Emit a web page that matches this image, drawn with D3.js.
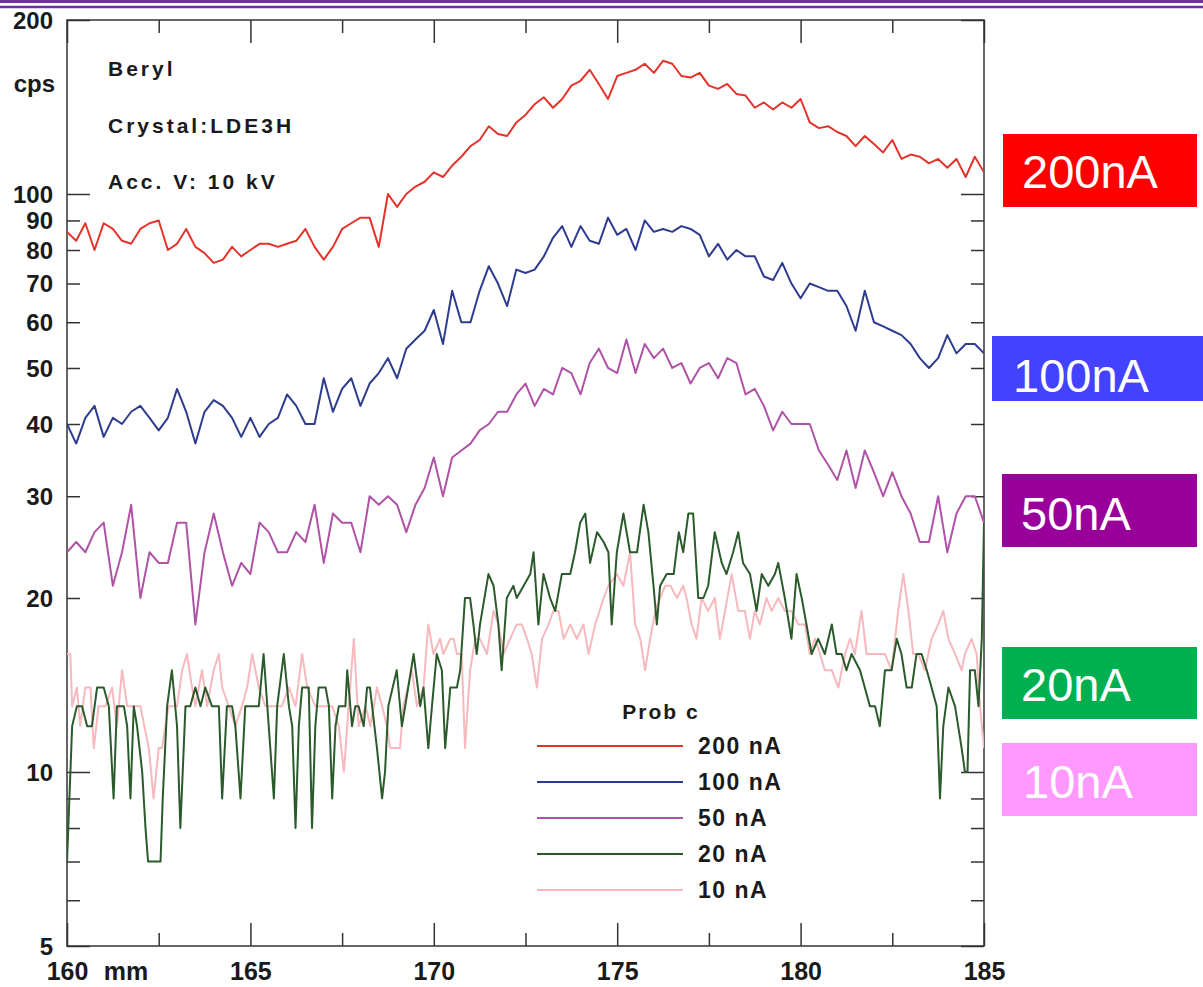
<!DOCTYPE html>
<html>
<head>
<meta charset="utf-8">
<script src="https://cdn.jsdelivr.net/npm/d3@7"></script>
<style>
  html, body { margin: 0; padding: 0; background: #fff; }
  svg { display: block; }
  .tick line { stroke: #333; stroke-width: 1.5; }
  .tick text { font-family: "Liberation Sans", Arial, sans-serif; font-weight: bold; fill: #1a1a1a; }
</style>
</head>
<body>
<svg id="chart" width="1203" height="987"></svg>
<script>
// ---- data ----
// upper three traces: read every 0.25 mm from 160 to 185
const mmStart = 160;
const mmStep = 0.25;

const series200 = [86, 83, 89, 80, 89, 87, 83, 82, 87, 89, 90, 80, 82, 87, 81, 79, 76, 77, 81, 78,
  80, 82, 82, 81, 82, 83, 87, 81, 77, 81, 87, 89, 91, 91, 81, 100, 95, 100, 103, 105,
  109, 107, 112, 116, 121, 124, 131, 127, 126, 133, 137, 143, 147, 141, 146, 154, 157, 164, 155, 146,
  160, 162, 164, 168, 162, 170, 168, 160, 159, 162, 154, 152, 155, 149, 148, 141, 144, 140, 144, 141,
  146, 133, 130, 131, 128, 126, 121, 126, 122, 118, 124, 115, 117, 116, 113, 115, 111, 115, 107, 116, 109];

const series100 = [40, 37, 41, 43, 38, 41, 40, 42, 43, 41, 39, 41, 46, 42, 37, 42, 44, 43, 41, 38,
  41, 38, 40, 41, 45, 43, 40, 40, 48, 42, 46, 48, 43, 47, 49, 52, 48, 54, 56, 58,
  63, 55, 68, 60, 60, 68, 75, 70, 64, 74, 73, 74, 78, 84, 88, 81, 88, 83, 82, 91,
  85, 87, 80, 90, 86, 87, 86, 88, 87, 85, 78, 82, 77, 80, 78, 78, 72, 71, 76, 70,
  66, 70, 69, 68, 68, 64, 58, 68, 60, 59, 58, 57, 55, 52, 50, 52, 57, 53, 55, 55, 53];

const series50 = [24, 25, 24, 26, 27, 21, 24, 29, 20, 24, 23, 23, 27, 27, 18, 24, 28, 24, 21, 23,
  22, 27, 26, 24, 24, 26, 25, 29, 23, 28, 27, 27, 24, 30, 29, 30, 29, 26, 29, 31,
  35, 30, 35, 36, 37, 39, 40, 42, 42, 45, 47, 43, 46, 45, 50, 49, 45, 51, 54, 50,
  49, 56, 49, 55, 52, 54, 50, 51, 47, 50, 51, 48, 52, 51, 45, 46, 43, 39, 42, 40,
  40, 40, 36, 34, 32, 36, 31, 36, 33, 30, 33, 30, 28, 25, 25, 30, 24, 28, 30, 30, 27];

// lower two traces: read at every visible turn of the trace
const mm20 = [160.0, 160.14, 160.27, 160.41, 160.55, 160.68, 160.82, 161.0, 161.14, 161.27,
  161.36, 161.55, 161.64, 161.73, 161.82, 161.91, 162.05, 162.14, 162.21, 162.41,
  162.55, 162.61, 162.73, 162.86, 163.0, 163.09, 163.23, 163.36, 163.5, 163.64,
  163.77, 163.95, 164.14, 164.23, 164.36, 164.5, 164.59, 164.73, 164.86, 165.05,
  165.23, 165.36, 165.5, 165.64, 165.73, 165.91, 166.05, 166.14, 166.23, 166.32,
  166.41, 166.59, 166.68, 166.77, 166.86, 167.05, 167.14, 167.23, 167.32, 167.41,
  167.59, 167.64, 167.77, 167.86, 167.95, 168.09, 168.18,
  168.26, 168.45, 168.59, 168.67, 168.76, 168.99, 169.13, 169.22, 169.45, 169.63,
  169.72, 169.85, 169.95, 170.08, 170.22, 170.31, 170.45, 170.63, 170.72, 170.85,
  170.99, 171.08, 171.17, 171.26, 171.49, 171.63, 171.76, 171.85, 171.99, 172.17,
  172.26, 172.45, 172.63, 172.72, 172.85, 172.99, 173.17, 173.31, 173.49, 173.72,
  173.85, 173.99, 174.13, 174.26, 174.45, 174.63, 174.76, 174.85, 174.99, 175.17,
  175.35, 175.54, 175.72, 175.85, 175.99, 176.08, 176.17, 176.35, 176.54, 176.68,
  176.80, 176.94, 177.07, 177.21, 177.35, 177.48, 177.66, 177.85, 177.98, 178.16,
  178.30, 178.43, 178.62, 178.80, 178.94, 179.12, 179.30, 179.39, 179.57, 179.75,
  179.89, 180.03, 180.16, 180.30, 180.48, 180.66, 180.85, 180.98, 181.12, 181.25,
  181.39, 181.62, 181.75, 181.89, 182.03, 182.16, 182.30, 182.48, 182.62, 182.75,
  182.89, 183.03, 183.16, 183.30, 183.44, 183.57, 183.71, 183.80, 183.89, 184.03,
  184.21, 184.39, 184.48, 184.55, 184.62, 184.75, 184.85, 184.94, 185.0];
const series20 = [7, 12, 13, 13, 12, 12, 14, 14, 13, 9,
  13, 13, 12, 9, 13, 12, 10, 8, 7, 7,
  7, 9, 13, 15, 12, 8, 13, 13, 14, 13,
  14, 13, 13, 9, 13, 13, 12, 9, 13, 13,
  13, 16, 12, 9, 13, 16, 13, 12, 8, 12,
  14, 14, 8, 12, 14, 14, 13, 9, 12, 13,
  13, 15, 12, 13, 13, 12, 14,
  14, 11, 9, 10, 13, 15, 12, 13, 16, 13,
  14, 11, 13, 16, 15, 11, 14, 14, 15, 20,
  20, 18, 16, 18, 22, 21, 18, 15, 20, 21,
  20, 21, 22, 24, 18, 22, 20, 19, 22, 22,
  24, 27, 28, 23, 26, 25, 24, 18, 24, 28,
  24, 24, 29, 26, 21, 18, 21, 22, 22, 26,
  24, 28, 28, 20, 20, 21, 26, 23, 22, 24,
  26, 23, 22, 19, 22, 21, 22, 23, 20, 17,
  22, 20, 18, 16, 17, 16, 18, 16, 16, 15,
  16, 15, 14, 13, 13, 12, 15, 15, 17, 16,
  14, 14, 16, 16, 15, 14, 13, 9, 12, 14,
  13, 11, 10, 10, 15, 15, 13, 17, 27];

const mm10 = [160.0, 160.09, 160.14, 160.27, 160.36, 160.5, 160.64, 160.73, 160.86, 161.05,
  161.23, 161.36, 161.5, 161.64, 161.82, 162.0, 162.23, 162.36, 162.5, 162.59,
  162.77, 163.0, 163.14, 163.27, 163.41, 163.5, 163.68, 163.82, 164.0, 164.14,
  164.23, 164.41, 164.59, 164.77, 164.91, 165.05, 165.23, 165.41, 165.55, 165.68,
  165.86, 166.05, 166.23, 166.41, 166.55, 166.77, 166.91, 167.05, 167.23, 167.41,
  167.55, 167.68, 167.82, 167.95, 168.14, 168.27,
  168.45, 168.59, 168.72, 168.81, 169.08, 169.17, 169.4, 169.54, 169.72, 169.85,
  169.99, 170.17, 170.26, 170.45, 170.54, 170.63, 170.76, 170.85, 170.99, 171.13,
  171.26, 171.45, 171.63, 171.76, 171.9, 172.08, 172.26, 172.4, 172.54, 172.67,
  172.81, 172.95, 173.13, 173.26, 173.4, 173.54, 173.72, 173.9, 174.08, 174.22,
  174.4, 174.63, 174.76, 174.99, 175.17, 175.35, 175.49, 175.63, 175.76, 175.9,
  176.04, 176.17, 176.31, 176.45, 176.63,
  176.80, 176.89, 177.03, 177.16, 177.3, 177.48, 177.66, 177.8, 177.94, 178.12,
  178.3, 178.48, 178.62, 178.75, 178.89, 179.07, 179.21, 179.39, 179.57, 179.75,
  179.94, 180.12, 180.25, 180.39, 180.53, 180.66, 180.85, 181.03, 181.21, 181.35,
  181.48, 181.66, 181.8, 181.94, 182.12, 182.3, 182.48, 182.66, 182.8, 182.94,
  183.07, 183.21, 183.39, 183.57, 183.75, 183.89, 184.03, 184.21, 184.39, 184.48,
  184.66, 184.8, 184.89, 185.0];
const series10 = [16, 16, 13, 14, 12, 14, 14, 11, 13, 13,
  14, 12, 15, 13, 13, 13, 11, 9, 11, 11,
  13, 13, 15, 16, 14, 13, 15, 13, 15, 16,
  14, 13, 12, 13, 14, 16, 14, 13, 13, 13,
  13, 14, 13, 16, 14, 13, 13, 13, 13, 12,
  10, 13, 17, 12, 13, 12,
  14, 13, 12, 11, 11, 13, 15, 13, 14, 18,
  16, 17, 16, 17, 17, 16, 16, 11, 15, 17,
  17, 16, 19, 18, 16, 17, 18, 18, 17, 16,
  14, 17, 18, 19, 19, 17, 18, 17, 18, 16,
  18, 20, 21, 22, 21, 24, 18, 17, 15, 17,
  19, 20, 21, 21, 20,
  21, 20, 18, 17, 20, 19, 20, 17, 19, 22,
  19, 19, 17, 19, 18, 20, 19, 20, 19, 19,
  18, 18, 16, 17, 16, 15, 15, 14, 16, 17,
  16, 19, 16, 16, 16, 16, 15, 19, 22, 19,
  16, 16, 15, 17, 18, 19, 17, 16, 15, 16,
  17, 16, 13, 11];

const seriesNames = ["200 nA", "100 nA", "50 nA", "20 nA", "10 nA"];
const seriesColors = ["#e3342c", "#2e3c8f", "#b053a6", "#2b5a2b", "#f7b9bd"];
const boxLabels = ["200nA", "100nA", "50nA", "20nA", "10nA"];
const boxColors = ["#ff0000", "#4343ff", "#990099", "#00b050", "#ff99ff"];

const xMajorTicks = [160, 165, 170, 175, 180, 185];
const xMinorTicks = [162.5, 167.5, 172.5, 177.5, 182.5];
const yMajorTicks = [5, 10, 100, 200];
const yMinorTicks = [6, 7, 8, 9, 20, 30, 40, 50, 60, 70, 80, 90];
const yLabelled = [5, 10, 20, 30, 40, 50, 60, 70, 80, 90, 100, 200];
const infoLines = ["Beryl", "Crystal:LDE3H", "Acc. V: 10 kV"];

document.addEventListener('DOMContentLoaded', function () {

    // ====================================================================
    // 1. CONFIGURATION
    // ====================================================================
    const CONFIG = {
        plot: { left: 67, right: 984, top: 20, bottom: 946 },
        majorTick: 23,
        minorTick: 13,
        font: '"Liberation Sans", Arial, sans-serif'
    };
    const P = CONFIG.plot;

    const svg = d3.select("#chart");
    svg.append("rect").attr("width", 1203).attr("height", 987).attr("fill", "#fff");

    // slide header rules
    svg.append("line").attr("x1", 0).attr("x2", 1203).attr("y1", 1.5).attr("y2", 1.5)
        .attr("stroke", "#7030a0").attr("stroke-width", 3);
    svg.append("line").attr("x1", 0).attr("x2", 1203).attr("y1", 7).attr("y2", 7)
        .attr("stroke", "#7030a0").attr("stroke-width", 2.5);

    // ====================================================================
    // 2. SCALES
    // ====================================================================
    const x = d3.scaleLinear().domain([160, 185]).range([P.left, P.right]);
    const y = d3.scaleLog().domain([5, 200]).range([P.bottom, P.top]);

    // ====================================================================
    // 3. AXES (all ticks point inward)
    // ====================================================================
    function addAxis(gen, tx, ty) {
        const g = svg.append("g").attr("transform", `translate(${tx},${ty})`).call(gen);
        g.select(".domain").remove();
        return g;
    }
    const noLabel = () => "";

    // bottom
    addAxis(d3.axisBottom(x).tickValues(xMajorTicks).tickSize(-CONFIG.majorTick).tickPadding(16)
        .tickFormat(d3.format("d")), 0, P.bottom)
        .selectAll("text").attr("font-size", 25).attr("dy", "0.71em");
    addAxis(d3.axisBottom(x).tickValues(xMinorTicks).tickSize(-CONFIG.minorTick).tickFormat(noLabel), 0, P.bottom);
    // top
    addAxis(d3.axisTop(x).tickValues(xMajorTicks).tickSize(-CONFIG.majorTick).tickFormat(noLabel), 0, P.top);
    addAxis(d3.axisTop(x).tickValues(xMinorTicks).tickSize(-CONFIG.minorTick).tickFormat(noLabel), 0, P.top);
    // left
    addAxis(d3.axisLeft(y).tickValues(yMajorTicks).tickSize(-CONFIG.majorTick).tickFormat(noLabel), P.left, 0);
    addAxis(d3.axisLeft(y).tickValues(yMinorTicks).tickSize(-CONFIG.minorTick).tickFormat(noLabel), P.left, 0);
    // right
    addAxis(d3.axisRight(y).tickValues(yMajorTicks).tickSize(-CONFIG.majorTick).tickFormat(noLabel), P.right, 0);
    addAxis(d3.axisRight(y).tickValues(yMinorTicks).tickSize(-CONFIG.minorTick).tickFormat(noLabel), P.right, 0);

    // y labels
    svg.append("g").selectAll("text")
        .data(yLabelled)
        .join("text")
        .attr("x", 53)
        .attr("y", d => y(d))
        .attr("dy", "0.36em")
        .attr("text-anchor", "end")
        .attr("font-family", CONFIG.font)
        .attr("font-weight", "bold")
        .attr("font-size", 24)
        .attr("fill", "#1a1a1a")
        .text(d => d);

    svg.append("text").attr("x", 55).attr("y", 92).attr("text-anchor", "end")
        .attr("font-family", CONFIG.font).attr("font-weight", "bold").attr("font-size", 24)
        .attr("fill", "#1a1a1a").text("cps");
    svg.append("text").attr("x", 126).attr("y", 980).attr("text-anchor", "middle")
        .attr("font-family", CONFIG.font).attr("font-weight", "bold").attr("font-size", 25)
        .attr("fill", "#1a1a1a").text("mm");

    // frame
    svg.append("rect")
        .attr("x", P.left).attr("y", P.top)
        .attr("width", P.right - P.left).attr("height", P.bottom - P.top)
        .attr("fill", "none").attr("stroke", "#333").attr("stroke-width", 1.5);

    // ====================================================================
    // 4. SERIES
    // ====================================================================
    const uniformMm = series200.map((d, i) => mmStart + i * mmStep);
    const traces = [
        { mm: uniformMm, cps: series200 },
        { mm: uniformMm, cps: series100 },
        { mm: uniformMm, cps: series50 },
        { mm: mm20, cps: series20 },
        { mm: mm10, cps: series10 }
    ];

    svg.append("clipPath").attr("id", "plot-clip")
        .append("rect").attr("x", P.left).attr("y", P.top)
        .attr("width", P.right - P.left).attr("height", P.bottom - P.top);

    const lines = svg.append("g").attr("clip-path", "url(#plot-clip)");
    // draw the faint ones first so the darker traces sit on top
    [4, 3, 2, 1, 0].forEach(k => {
        const t = traces[k];
        const pts = t.cps.map((v, i) => [t.mm[i], v]);
        lines.append("path")
            .datum(pts)
            .attr("fill", "none")
            .attr("stroke", seriesColors[k])
            .attr("stroke-width", 2)
            .attr("stroke-linejoin", "round")
            .attr("d", d3.line().x(d => x(d[0])).y(d => y(d[1])));
    });

    // ====================================================================
    // 5. TEXT BLOCK & LEGEND
    // ====================================================================
    svg.append("g").selectAll("text")
        .data(infoLines)
        .join("text")
        .attr("x", 108)
        .attr("y", (d, i) => 76 + i * 56.5)
        .attr("font-family", CONFIG.font)
        .attr("font-weight", "bold")
        .attr("font-size", 21)
        .attr("letter-spacing", 3)
        .attr("fill", "#1a1a1a")
        .text(d => d);

    const legend = svg.append("g");
    legend.append("text").attr("x", 661).attr("y", 719).attr("text-anchor", "middle")
        .attr("font-family", CONFIG.font).attr("font-weight", "bold").attr("font-size", 21)
        .attr("letter-spacing", 2).attr("fill", "#1a1a1a").text("Prob c");
    const rows = legend.selectAll("g.row")
        .data(seriesNames)
        .join("g")
        .attr("class", "row")
        .attr("transform", (d, i) => `translate(0,${746 + i * 36})`);
    rows.append("line").attr("x1", 537).attr("x2", 683)
        .attr("stroke", (d, i) => seriesColors[i]).attr("stroke-width", 2);
    rows.append("text").attr("x", 698).attr("dy", "0.36em")
        .attr("font-family", CONFIG.font).attr("font-weight", "bold").attr("font-size", 23)
        .attr("letter-spacing", 1.5).attr("fill", "#1a1a1a")
        .text(d => d);

    // ====================================================================
    // 6. COLOURED CURRENT BOXES (right side)
    // ====================================================================
    const boxes = [
        { x: 1003, y: 134, w: 194, h: 73, tx: 1022, ty: 188 },
        { x: 992, y: 336, w: 211, h: 65, tx: 1013, ty: 392 },
        { x: 1002, y: 474, w: 195, h: 73, tx: 1021, ty: 530 },
        { x: 1002, y: 647, w: 195, h: 72, tx: 1021, ty: 701 },
        { x: 1002, y: 743, w: 195, h: 73, tx: 1023, ty: 798 }
    ];
    const bg = svg.append("g").selectAll("g")
        .data(boxes)
        .join("g");
    bg.append("rect")
        .attr("x", d => d.x).attr("y", d => d.y)
        .attr("width", d => d.w).attr("height", d => d.h)
        .attr("fill", (d, i) => boxColors[i]);
    bg.append("text")
        .attr("x", d => d.tx).attr("y", d => d.ty)
        .attr("font-family", CONFIG.font)
        .attr("font-size", 47)
        .attr("fill", "#fff")
        .text((d, i) => boxLabels[i]);
});
</script>
</body>
</html>
